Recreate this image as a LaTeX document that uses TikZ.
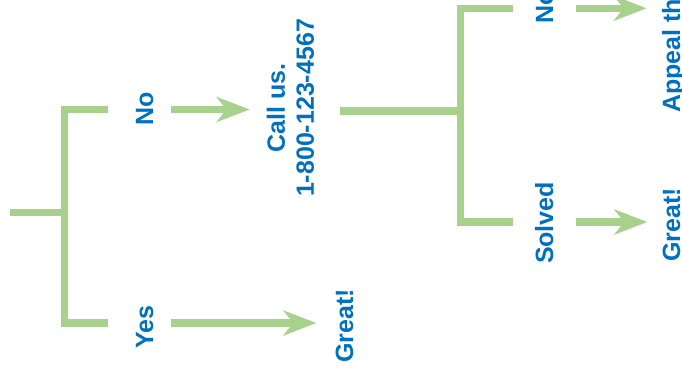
\documentclass[tikz,border=0pt]{standalone}
\usepackage{fontspec}
\setmainfont{Liberation Sans}
\usetikzlibrary{arrows.meta}
\definecolor{lgreen}{HTML}{A9D18E}
\definecolor{tblue}{HTML}{0070C0}
\begin{document}
\begin{tikzpicture}[x=1bp,y=-1bp,
  conn/.style={draw=lgreen, line width=7.5bp, line join=miter},
  arr/.style={conn, -{Stealth[length=33bp,width=25bp,inset=10bp]}},
  lbl/.style={text=tblue, font=\fontsize{25bp}{29bp}\selectfont\bfseries, rotate=90, inner sep=0pt, anchor=base}]
\useasboundingbox (0,0) rectangle (682,372);
\clip (0,0) rectangle (682,372);
% coordinates
\coordinate (root) at (10,212.5);
\coordinate (j1) at (64.5,212.5);
\coordinate (arm1) at (108,109.5);
\coordinate (arm2) at (108,323);
\coordinate (j2) at (460.5,111);
\coordinate (arm3) at (513,8.3);
\coordinate (arm4) at (513,222);
% labels
\node[lbl] (no1) at (153,109) {No};
\node[lbl] (yes) at (153,327) {Yes};
\node[lbl, anchor=center, align=center] (call) at (290.5,108) {Call us.\\1-800-123-4567};
\node[lbl] (great1) at (353,326) {Great!};
\node[lbl] (no2) at (553,7) {No};
\node[lbl] (solved) at (553,223) {Solved};
\node[lbl] (great2) at (680,225) {Great!};
\node[lbl, anchor=base west] (appeal) at (680,113) {Appeal th};
% brackets
\draw[conn] (root) -- (j1);
\draw[conn] (arm1) -| (j1) |- (arm2);
\draw[conn, shorten <=26bp] (call.south |- j2) -- (j2);
\draw[conn] (arm3) -| (j2) |- (arm4);
% arrows
\draw[arr, shorten <=18bp, shorten >=17bp] (no1.south |- arm1) -- (call.north |- arm1);
\draw[arr, shorten <=18bp, shorten >=19bp] (yes.south |- arm2) -- (great1.north |- arm2);
\draw[arr, shorten <=23bp, shorten >=15bp] (no2.south |- arm3) -- (appeal.north |- arm3);
\draw[arr, shorten <=23bp, shorten >=15bp] (solved.south |- arm4) -- (great2.north |- arm4);
\end{tikzpicture}
\end{document}
